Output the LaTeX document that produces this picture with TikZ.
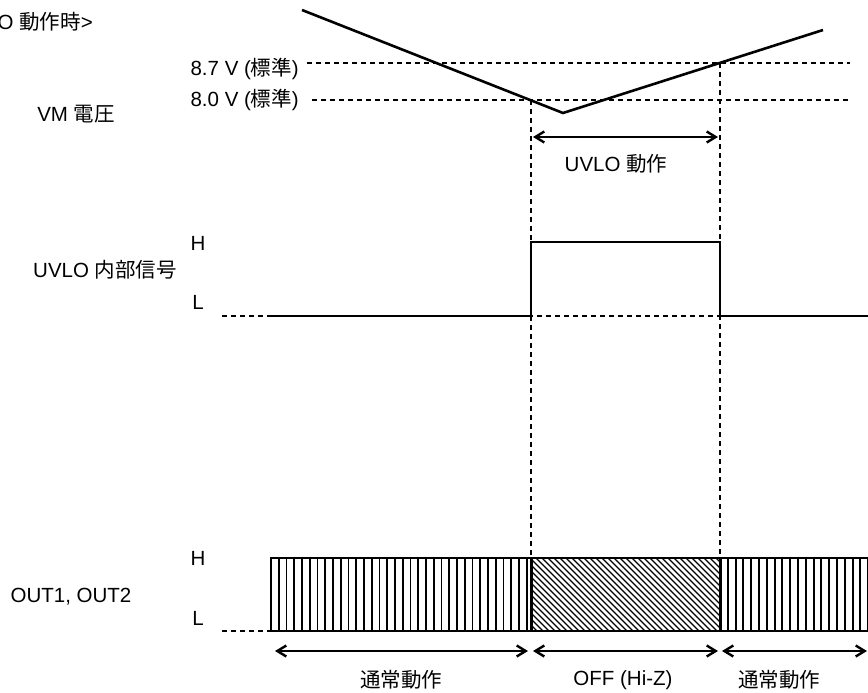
\documentclass[tikz,border=0pt]{standalone}
\usepackage{fontspec}
\setmainfont{Liberation Sans}
\newfontfamily\jp{Noto Sans CJK JP}
\usetikzlibrary{arrows.meta}

\begin{document}
\begin{tikzpicture}[x=1pt,y=-1pt,>={Straight Barb[length=9pt,width=11pt]},
    every node/.style={inner sep=0pt,font=\fontsize{20.5}{24}\selectfont},
    wave/.style={line width=2.6pt},
    guide/.style={line width=1.5pt,dash pattern=on 5pt off 4pt},
    span/.style={line width=2.4pt,<->}]
  \useasboundingbox (0,0) rectangle (868,693);
  \clip (0,0) rectangle (868,693);
  \def\tone{531}
  \def\ttwo{720}
  \def\boxtop{558}
  \def\boxbot{631}

  % title and VM voltage
  \node [anchor=east] (title) at (93,22) {<UVLO {\jp 動作時}>};
  \node (vmlabel) at (76,114) {VM {\jp 電圧}};
  \node [anchor=east] (lvlhi) at (299,69) {8.7 V ({\jp 標準})};
  \node [anchor=east] (lvllo) at (299,100) {8.0 V ({\jp 標準})};
  \coordinate (vstart) at (302,10);
  \coordinate (vmin) at (563,113);
  \coordinate (vend) at (823,30);
  \draw[guide] (307,63) -- (850,63);
  \draw[guide] (312,100) -- (850,100);
  \draw[wave] (vstart) -- (vmin) -- (vend);

  % timing guides
  \draw[guide] (\tone,100) -- (\tone,\boxtop);
  \draw[guide] (\ttwo,63) -- (\ttwo,\boxtop);
  \draw[span] (\tone+2,137) -- (\ttwo-2,137);
  \node (uvlo) at (616,164) {UVLO {\jp 動作}};

  % UVLO internal signal
  \node (siglabel) at (105,270) {UVLO {\jp 内部信号}};
  \node (sigH) at (198,243) {H};
  \node (sigL) at (198,302) {L};
  \draw[guide] (222,316) -- (\ttwo,316);
  \draw[wave] (270,316) -- (\tone,316) -- (\tone,242) -- (\ttwo,242) -- (\ttwo,316) -- (880,316);

  % outputs
  \node (outlabel) at (71,597) {OUT1, OUT2};
  \node (outH) at (198,\boxtop) {H};
  \node (outL) at (198,618) {L};
  \begin{scope}
    \clip (271,\boxtop) rectangle (\tone,\boxbot);
    \foreach \x in {271,278.75,...,531}
      \draw[line width=1.9pt] (\x,\boxtop) -- (\x,\boxbot);
  \end{scope}
  \begin{scope}
    \clip (\tone,\boxtop) rectangle (\ttwo,\boxbot);
    \foreach \x in {452,458,...,722}
      \draw[line width=1.2pt] (\x,\boxtop) -- ++(73,73);
  \end{scope}
  \begin{scope}
    \clip (\ttwo,\boxtop) rectangle (880,\boxbot);
    \foreach \x in {720,727.8,...,880}
      \draw[line width=1.9pt] (\x,\boxtop) -- (\x,\boxbot);
  \end{scope}
  \draw[guide] (222,\boxbot) -- (271,\boxbot);
  \draw[line width=2.6pt] (880,\boxtop) -- (271,\boxtop) -- (271,\boxbot) -- (880,\boxbot);
  \draw[line width=3pt] (\tone,\boxtop) -- (\tone,\boxbot);
  \draw[line width=3pt] (\ttwo,\boxtop) -- (\ttwo,\boxbot);

  % operating spans
  \draw[span] (275,651) -- (528,651);
  \draw[span] (\tone+2,651) -- (\ttwo-2,651);
  \draw[span] (\ttwo+2,651) -- (867,651);
  \node (normA) at (401,680) {{\jp 通常動作}};
  \node (offZ) at (623,680) {OFF (Hi-Z)};
  \node (normB) at (779,680) {{\jp 通常動作}};
\end{tikzpicture}
\end{document}
